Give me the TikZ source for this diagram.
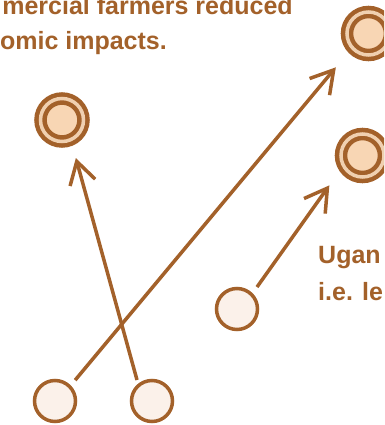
\documentclass[tikz,border=0pt]{standalone}
\usepackage{fontspec}
\setmainfont{Liberation Sans}
\usetikzlibrary{arrows.meta,calc}
\definecolor{brn}{RGB}{163,97,42}
\definecolor{peach}{RGB}{248,214,180}
\definecolor{gapc}{RGB}{240,208,176}
\definecolor{pale}{RGB}{251,241,234}
\begin{document}
\begin{tikzpicture}[x=1pt,y=1pt,
  dbl/.style={circle, draw=brn, line width=4.5pt, double=gapc, double distance=3.5pt, fill=peach, minimum size=43pt, inner sep=0pt, outer sep=0pt},
  sgl/.style={circle, draw=brn, line width=3.5pt, fill=pale, minimum size=41pt, inner sep=0pt, outer sep=0pt},
  arr/.style={draw=brn, line width=3.5pt, -{Straight Barb[length=22pt,width=26pt]}},
  txt/.style={text=brn, font=\bfseries\fontsize{25pt}{30pt}\selectfont, inner sep=0pt}]
\useasboundingbox (0,0) rectangle (384,-425);
\clip (0,0) rectangle (384,-425);
\node[dbl] (d1) at (62,-120) {};
\node[dbl] (d2) at (368.5,-33.5) {};
\node[dbl] (d3) at (362.5,-155.5) {};
\node[sgl] (s1) at (55,-401) {};
\node[sgl] (s2) at (152,-401) {};
\node[sgl] (s3) at (237,-309) {};
\draw[arr] ([shift={(125.5:25.8)}]s2.center) -- ([shift={(-70:40.5)}]d1.center);
\draw[arr] ([shift={(46:29)}]s1.center) -- ([shift={(226:47)}]d2.center);
\draw[arr] ([shift={(47.7:29.7)}]s3.center) -- ([shift={(222:44.6)}]d3.center);
\node[txt, anchor=base east] (t1) at (293,-15) {mercial farmers reduced};
\node[txt, anchor=base east] (t2) at (167,-50) {omic impacts.};
\node[txt, anchor=base west] (t3) at (318,-263) {Ugan};
\node[txt, anchor=base west] (t4) at (318,-300) {i.e. le};
\end{tikzpicture}
\end{document}
